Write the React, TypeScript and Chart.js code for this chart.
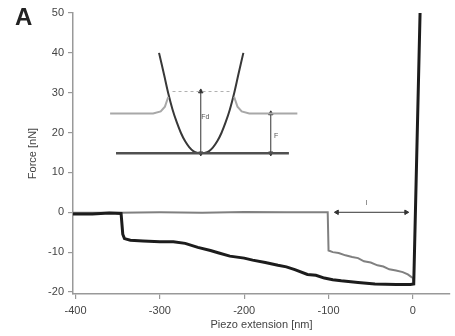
import React, { useEffect, useRef } from "react";
import { Chart, registerables } from "chart.js";

Chart.register(...registerables);

// Axis ticks
const xTicks = [-400, -300, -200, -100, 0];
const yTicks = [-20, -10, 0, 10, 20, 30, 40, 50];

// Force curve 1 (black, thick)
const blackX = [-403, -380, -360, -346, -344, -342, -335, -320, -300, -284, -270, -255, -240, -230, -217, -200, -190, -175, -160, -150, -140, -125, -115, -105, -95, -85, -65, -45, -20, -3, 1, 8.5];
const blackY = [-0.4, -0.4, -0.2, -0.3, -5.5, -6.6, -7.0, -7.2, -7.4, -7.4, -7.8, -8.8, -9.6, -10.2, -11.0, -11.5, -12.0, -12.6, -13.3, -13.7, -14.4, -15.6, -15.8, -16.5, -16.9, -17.2, -17.6, -18.0, -18.1, -18.1, -18.0, 50];

// Force curve 2 (gray)
const grayX = [-403, -350, -300, -250, -200, -150, -101, -100, -95, -88, -80, -72, -65, -58, -50, -42, -35, -28, -20, -12, -6, -2, 0, 1];
const grayY = [-0.1, -0.1, 0.0, -0.1, 0.1, 0.0, 0.0, -9.6, -10.0, -10.2, -10.8, -11.2, -11.5, -12.3, -12.6, -13.3, -13.6, -14.3, -14.6, -15.0, -15.6, -16.2, -16.5, -17.8];

// Inset sketch
const baseX = [-352, -147];
const baseY = [14.8, 14.8];
const upLeftX = [-359, -308, -299, -294, -290];
const upLeftY = [24.8, 24.8, 25.3, 26.5, 29];
const upRightX = [-212, -208, -203, -194, -137];
const upRightY = [29, 26.5, 25.3, 24.8, 24.8];
const parabX = [-301, -295, -290, -285, -280, -275, -270, -265, -260, -255, -251, -247, -242, -237, -232, -227, -222, -217, -212, -207, -201];
const parabY = [40, 34.5, 29.8, 25.8, 22.6, 19.9, 17.8, 16.3, 15.3, 14.9, 14.8, 14.9, 15.3, 16.3, 17.8, 19.9, 22.6, 25.8, 29.8, 34.5, 40];
const dashX = [-285, -217];
const dashY = [30.3, 30.3];
const arrow1X = [-251.5, -251.5];
const arrow1Y = [14.8, 30.3];
const arrow2X = [-168.5, -168.5];
const arrow2Y = [14.8, 24.8];
const arrow3X = [-90, -8];
const arrow3Y = [0, 0];

// Inset labels
const labelText = ["Fd", "F", "l"];
const labelX = [-246, -162, -55];
const labelY = [23.8, 19.2, 2.4];

const pts = (xs: number[], ys: number[]) => xs.map((x, i) => ({ x, y: ys[i] }));

const FONT = "'Liberation Sans', Arial, sans-serif";

export default function App() {
  const ref = useRef<HTMLCanvasElement | null>(null);
  useEffect(() => {
    if (!ref.current) return;
    const labelsPlugin = {
      id: "labels",
      afterDatasetsDraw(chart: any) {
        const { ctx, scales } = chart;
        ctx.save();
        ctx.fillStyle = "#555";
        ctx.font = `7px ${FONT}`;
        ctx.textAlign = "center";
        ctx.textBaseline = "middle";
        labelText.forEach((t, i) => {
          ctx.fillText(t, scales.x.getPixelForValue(labelX[i]), scales.y.getPixelForValue(labelY[i]));
        });
        ctx.fillStyle = "#222";
        ctx.font = `bold 24px ${FONT}`;
        ctx.textAlign = "left";
        ctx.textBaseline = "alphabetic";
        ctx.fillText("A", 15, 25);
        ctx.restore();
      },
    };
    const line = (data: any, color: string, width: number, extra: any = {}) => ({
      data,
      borderColor: color,
      backgroundColor: color,
      borderWidth: width,
      showLine: true,
      pointRadius: 0,
      fill: false,
      tension: 0,
      ...extra,
    });
    const arrow = (data: any, rot: number[]) =>
      line(data, "#333", 1, {
        pointStyle: "triangle",
        pointRadius: 2.6,
        pointRotation: rot,
        pointBorderWidth: 1,
      });
    const chart = new Chart(ref.current, {
      type: "scatter",
      data: {
        datasets: [
          line(pts(blackX, blackY), "#1c1c1c", 3),
          line(pts(grayX, grayY), "#808080", 2),
          line(pts(baseX, baseY), "#505050", 2.5),
          line(pts(upLeftX, upLeftY), "#a8a8a8", 2),
          line(pts(upRightX, upRightY), "#a8a8a8", 2),
          line(pts(parabX, parabY), "#383838", 2, { tension: 0.3 }),
          line(pts(dashX, dashY), "#b0b0b0", 1, { borderDash: [3, 3] }),
          arrow(pts(arrow1X, arrow1Y), [180, 0]),
          arrow(pts(arrow2X, arrow2Y), [180, 0]),
          arrow(pts(arrow3X, arrow3Y), [270, 90]),
        ] as any,
      },
      options: {
        animation: false,
        responsive: false,
        events: [],
        layout: { padding: { top: 13, right: 0, left: 0, bottom: 0 } },
        plugins: { legend: { display: false }, tooltip: { enabled: false } },
        scales: {
          x: {
            type: "linear",
            min: -403,
            max: 44,
            afterBuildTicks: (s: any) => {
              s.ticks = xTicks.map((v) => ({ value: v }));
            },
            afterFit: (s: any) => {
              s.height = 42;
            },
            grid: { drawOnChartArea: false, drawTicks: true, tickLength: 5, color: "#999", lineWidth: 1.2 },
            border: { color: "#999", width: 1.5 },
            ticks: { color: "#444", font: { family: FONT, size: 11 }, padding: 5, maxRotation: 0 },
            title: {
              display: true,
              text: "Piezo extension [nm]",
              color: "#444",
              font: { family: FONT, size: 11 },
              padding: { top: 0, bottom: 4.4 },
            },
          },
          y: {
            type: "linear",
            min: -20.5,
            max: 50,
            afterBuildTicks: (s: any) => {
              s.ticks = yTicks.map((v) => ({ value: v }));
            },
            afterFit: (s: any) => {
              s.width = 73;
            },
            grid: { drawOnChartArea: false, drawTicks: true, tickLength: 5, color: "#999", lineWidth: 1.2 },
            border: { color: "#999", width: 1.5 },
            ticks: { color: "#444", font: { family: FONT, size: 11 }, padding: 4 },
            title: {
              display: true,
              text: "Force [nN]",
              color: "#444",
              font: { family: FONT, size: 11 },
              padding: { top: 26, bottom: 0 },
            },
          },
        },
      },
      plugins: [labelsPlugin],
    } as any);
    return () => chart.destroy();
  }, []);
  return (
    <div style={{ position: "absolute", left: 0, top: 0, width: 455, height: 336, background: "#fff" }}>
      <canvas ref={ref} width={455} height={336} style={{ width: 455, height: 336 }} />
    </div>
  );
}
